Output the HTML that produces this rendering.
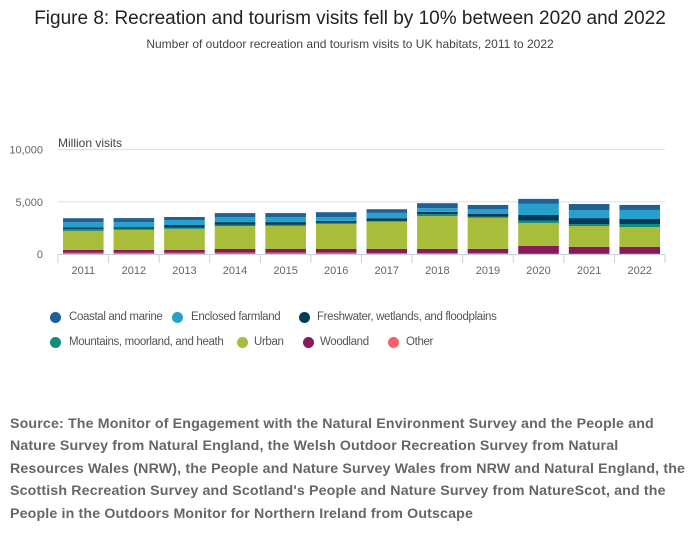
<!DOCTYPE html>
<html><head><meta charset="utf-8">
<style>
body{margin:0;width:700px;height:551px;background:#fff;font-family:"Liberation Sans",sans-serif;overflow:hidden}
#title{position:absolute;top:8px;left:0;width:700px;text-align:center;font-size:19px;color:#222}
#sub{position:absolute;top:37px;left:0;width:700px;text-align:center;font-size:12px;color:#444}
.leg{position:absolute;font-size:11.5px;letter-spacing:-0.35px;color:#555;white-space:nowrap}
.dot{position:absolute;width:11px;height:11px;border-radius:50%}
#src{position:absolute;left:10px;top:413px;width:690px;font-size:14.2px;font-weight:bold;color:#666;line-height:22.4px;white-space:nowrap;letter-spacing:0.15px}
</style></head><body>
<div id="title">Figure 8: Recreation and tourism visits fell by 10% between 2020 and 2022</div>
<div id="sub">Number of outdoor recreation and tourism visits to UK habitats, 2011 to 2022</div>
<svg id="chart" width="700" height="300" style="position:absolute;top:0;left:0"></svg>
<div class="dot" style="left:50px;top:312px;background:#206095"></div>
<div class="leg" style="left:69px;top:311px">Coastal and marine</div>
<div class="dot" style="left:172px;top:312px;background:#27a0cc"></div>
<div class="leg" style="left:191px;top:311px">Enclosed farmland</div>
<div class="dot" style="left:299px;top:312px;background:#003c57"></div>
<div class="leg" style="left:317px;top:311px">Freshwater, wetlands, and floodplains</div>
<div class="dot" style="left:50px;top:337px;background:#118c7b"></div>
<div class="leg" style="left:69px;top:336px">Mountains, moorland, and heath</div>
<div class="dot" style="left:237px;top:337px;background:#a8bd3a"></div>
<div class="leg" style="left:254px;top:336px">Urban</div>
<div class="dot" style="left:303px;top:337px;background:#871a5b"></div>
<div class="leg" style="left:320px;top:336px">Woodland</div>
<div class="dot" style="left:388px;top:337px;background:#f66068"></div>
<div class="leg" style="left:406px;top:336px">Other</div>
<div id="src">Source: The Monitor of Engagement with the Natural Environment Survey and the People and<br>Nature Survey from Natural England, the Welsh Outdoor Recreation Survey from Natural<br>Resources Wales (NRW), the People and Nature Survey Wales from NRW and Natural England, the<br>Scottish Recreation Survey and Scotland's People and Nature Survey from NatureScot, and the<br>People in the Outdoors Monitor for Northern Ireland from Outscape</div>
<script>
const years=["2011","2012","2013","2014","2015","2016","2017","2018","2019","2020","2021","2022"];
const other=[130,130,130,130,130,130,100,100,100,20,20,20];
const woodland=[260,260,260,350,350,350,385,385,385,770,670,670];
const urban=[1820,1920,2020,2180,2210,2400,2620,3140,2980,2180,1980,1890];
const mountains=[190,130,100,130,100,100,60,190,100,220,190,290];
const freshwater=[160,130,260,260,260,190,260,220,290,545,575,480];
const enclosed=[480,480,480,480,480,350,510,350,450,1060,770,865];
const coastal=[385,385,290,385,385,480,350,480,385,480,575,480];
const yTicks=[0,5000,10000];
const yTickLabels=["0","5,000","10,000"];
const NS="http://www.w3.org/2000/svg";
const svg=document.getElementById('chart');
const x0=58,x1=665,yBase=254,yTop=149.5,yMax=10000;
const band=(x1-x0)/years.length;
function y(v){return yBase-(v/yMax)*(yBase-yTop);}
function xs(i){return x0+i*band;}
function mk(t,a){const e=document.createElementNS(NS,t);for(const k in a)e.setAttribute(k,a[k]);svg.appendChild(e);return e;}
yTicks.forEach((t,i)=>{
  if(t>0){const g=mk('line',{x1:x0,x2:x1,y1:y(t),y2:y(t),stroke:'#e0e0e0'});
  
  }
  const l=mk('text',{x:43,y:y(t)+4,'text-anchor':'end','font-size':11,fill:'#666'});
  l.textContent=yTickLabels[i];
  
  
});
const yt=mk('text',{x:58,y:147,'font-size':12,fill:'#444'});yt.textContent='Million visits';


const series=[["other",other,"#f66068"],["woodland",woodland,"#871a5b"],["urban",urban,"#a8bd3a"],["mountains",mountains,"#118c7b"],["freshwater",freshwater,"#003c57"],["enclosed",enclosed,"#27a0cc"],["coastal",coastal,"#206095"]];
years.forEach((yr,i)=>{
  let cum=0;
  series.forEach(s=>{
    const v=s[1][i];
    const r=mk('rect',{x:xs(i)+5,width:band-10,y:y(cum+v),height:y(cum)-y(cum+v),fill:s[2]});
    
    
    cum+=v;
  });
  const tk=mk('line',{x1:xs(i),x2:xs(i),y1:yBase,y2:yBase+9,stroke:'#c8d0e0'});
  
  
  const lb=mk('text',{x:xs(i)+band/2,y:yBase+20,'text-anchor':'middle','font-size':11,fill:'#666'});
  lb.textContent=yr;
  
  
});
const tkEnd=mk('line',{x1:x1,x2:x1,y1:yBase,y2:yBase+9,stroke:'#c8d0e0'});


const ax=mk('line',{x1:x0,x2:x1,y1:yBase+0.5,y2:yBase+0.5,stroke:'#c8d0e0'});


</script>
</body></html>
